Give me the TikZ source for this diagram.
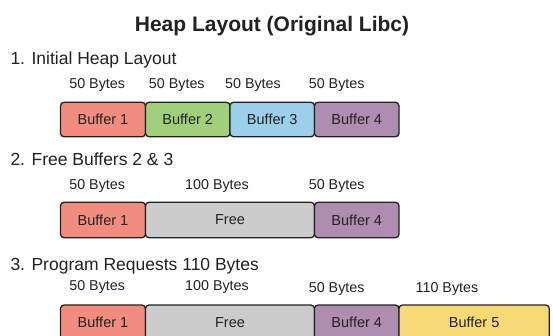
\documentclass[tikz,border=0pt]{standalone}
\usepackage{fontspec}
\setmainfont{Liberation Sans}
\definecolor{cred}{HTML}{F28C7E}
\definecolor{cgreen}{HTML}{A0D07C}
\definecolor{cblue}{HTML}{9CCFEA}
\definecolor{cpurple}{HTML}{AF8DB0}
\definecolor{cgray}{HTML}{CCCCCC}
\definecolor{cyellow}{HTML}{F8D978}
\definecolor{ink}{HTML}{222222}
\begin{document}
\begin{tikzpicture}[x=1pt,y=-1pt,
  buf/.style={draw=ink, line width=1.3pt, rounded corners=3.5pt, minimum height=34.5pt, inner sep=0pt, font=\fontsize{14.5}{17}\selectfont, text=ink},
  lbl/.style={anchor=base, inner sep=0pt, font=\fontsize{14.3}{17}\selectfont, text=ink},
  head/.style={anchor=base west, inner sep=0pt, font=\fontsize{17.5}{21}\selectfont, text=ink},
  ttl/.style={anchor=base, inner sep=0pt, font=\fontsize{21}{25}\selectfont\bfseries, text=ink}
]
\useasboundingbox (0,0) rectangle (553,335);
\clip (0,0) rectangle (553,335);
\fill[white] (0,0) rectangle (553,335);

\node[ttl] (title) at (272,31) {Heap Layout (Original Libc)};

% Row 1
\node[head] (h1) at (10.3,64.3) {1. Initial Heap Layout};
\node[lbl] (l11) at (97.2,88.5) {50 Bytes};
\node[lbl] (l12) at (176.8,88.5) {50 Bytes};
\node[lbl] (l13) at (253,88.5) {50 Bytes};
\node[lbl] (l14) at (336.7,88.5) {50 Bytes};
\node[buf, fill=cred, minimum width=85pt] (r1b1) at (103,119.5) {Buffer 1};
\node[buf, fill=cgreen, minimum width=84.5pt] (r1b2) at (187.75,119.5) {Buffer 2};
\node[buf, fill=cblue, minimum width=84.5pt] (r1b3) at (272.25,119.5) {Buffer 3};
\node[buf, fill=cpurple, minimum width=84.5pt] (r1b4) at (356.75,119.5) {Buffer 4};

% Row 2
\node[head] (h2) at (10.3,165.7) {2. Free Buffers 2 \& 3};
\node[lbl] (l21) at (97.2,189) {50 Bytes};
\node[lbl] (l22) at (217,189) {100 Bytes};
\node[lbl] (l23) at (336.7,189) {50 Bytes};
\node[buf, fill=cred, minimum width=85pt, minimum height=35.4pt] (r2b1) at (103,220) {Buffer 1};
\node[buf, fill=cgray, minimum width=169pt, minimum height=35.4pt] (r2f) at (230,220) {Free};
\node[buf, fill=cpurple, minimum width=84.5pt, minimum height=35.4pt] (r2b4) at (356.75,220) {Buffer 4};

% Row 3
\node[head] (h3) at (10.3,270) {3. Program Requests 110 Bytes};
\node[lbl] (l31) at (97.2,290.7) {50 Bytes};
\node[lbl] (l32) at (217,290.7) {100 Bytes};
\node[lbl] (l33) at (336.7,292.7) {50 Bytes};
\node[lbl] (l34) at (447,292.7) {110 Bytes};
\node[buf, fill=cred, minimum width=85pt, minimum height=35.4pt] (r3b1) at (103,322.7) {Buffer 1};
\node[buf, fill=cgray, minimum width=169pt, minimum height=35.4pt] (r3f) at (230,322.7) {Free};
\node[buf, fill=cpurple, minimum width=84.5pt, minimum height=35.4pt] (r3b4) at (356.75,322.7) {Buffer 4};
\node[buf, fill=cyellow, minimum width=150.3pt, minimum height=35.4pt] (r3b5) at (474.15,322.7) {Buffer 5};
\end{tikzpicture}
\end{document}
